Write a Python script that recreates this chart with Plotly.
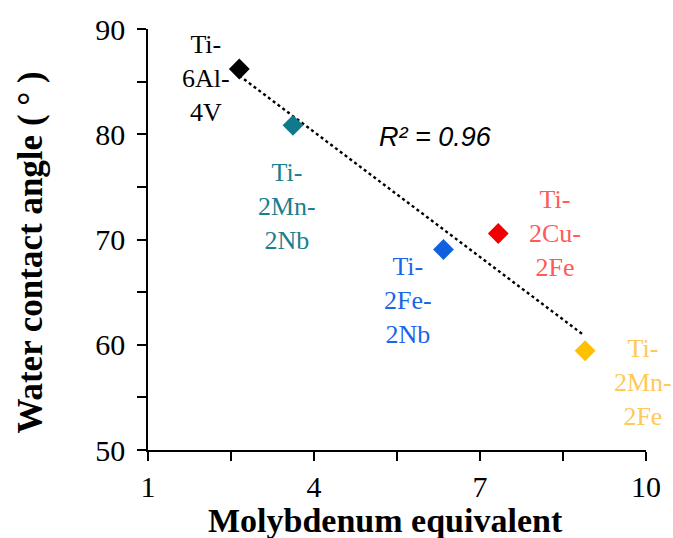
import numpy as np
import plotly.graph_objects as go

alloys = ["Ti-6Al-4V", "Ti-2Mn-2Nb", "Ti-2Fe-2Nb", "Ti-2Cu-2Fe", "Ti-2Mn-2Fe"]
mo_eq = [2.65, 3.62, 6.34, 7.33, 8.90]
contact_angle = [86.2, 80.85, 69.05, 70.57, 59.43]
marker_colors = ["#000000", "#0E7A8C", "#1060E0", "#F00000", "#FFC000"]
label_colors = ["#000000", "#1A8090", "#1A66E6", "#FF5A5A", "#FFC85A"]
label_texts = ["Ti-<br>6Al-<br>4V", "Ti-<br>2Mn-<br>2Nb", "Ti-<br>2Fe-<br>2Nb", "Ti-<br>2Cu-<br>2Fe", "Ti-<br>2Mn-<br>2Fe"]
label_x = [2.05, 3.52, 5.7, 8.35, 9.95]
label_y = [85.3, 73.1, 64.2, 70.6, 56.4]
r2_text = "R² = 0.96"
x_title = "Molybdenum equivalent"
y_title = "Water contact angle ( ° )"

SERIF = "Liberation Serif, Times New Roman, serif"

x = np.array(mo_eq)
y = np.array(contact_angle)
slope, intercept = np.polyfit(x, y, 1)
fit_x = np.array([x.min(), x.max() - 0.05])
fit_y = slope * fit_x + intercept

fig = go.Figure()
fig.add_trace(go.Scatter(x=fit_x, y=fit_y, mode="lines",
                         line=dict(color="#000000", width=2.4, dash="dot"),
                         showlegend=False, hoverinfo="skip"))
fig.add_trace(go.Scatter(x=mo_eq, y=contact_angle, mode="markers",
                         marker=dict(symbol="diamond", size=16, color=marker_colors),
                         showlegend=False))

for t, lx, ly, c in zip(label_texts, label_x, label_y, label_colors):
    fig.add_annotation(x=lx, y=ly, xref="x", yref="y", text=t, showarrow=False,
                       font=dict(family=SERIF, size=26, color=c),
                       align="center")

fig.add_annotation(x=6.2, y=79.7, xref="x", yref="y", text="<i>" + r2_text + "</i>",
                   showarrow=False, font=dict(family="Liberation Sans, Arial, sans-serif", size=27, color="#000000"))

fig.add_annotation(x=-0.236, y=0.47, xref="paper", yref="paper", text="<b>" + y_title + "</b>",
                   textangle=-90, showarrow=False, xanchor="center", yanchor="middle",
                   font=dict(family=SERIF, size=35, color="#000000"))
fig.add_annotation(x=0.477, y=-0.167, xref="paper", yref="paper", text="<b>" + x_title + "</b>",
                   showarrow=False, xanchor="center", yanchor="middle",
                   font=dict(family=SERIF, size=34, color="#000000"))

axis_common = dict(showgrid=False, zeroline=False, showline=True, linecolor="#000000", linewidth=1.5,
                   ticks="outside", ticklen=9, tickwidth=1.5, tickcolor="#000000",
                   tickfont=dict(family=SERIF, size=30, color="#000000"))

fig.update_layout(
    width=673, height=538,
    margin=dict(l=148, r=16, t=25, b=88),
    plot_bgcolor="white", paper_bgcolor="white",
    font=dict(family=SERIF, color="#000000"),
    xaxis=dict(range=[1, 10], tickmode="array", tickvals=[1, 4, 7, 10],
               minor=dict(tickmode="array", tickvals=[2.5, 5.5, 8.5], ticks="outside", ticklen=9, tickwidth=1.5, tickcolor="#000000", showgrid=False),
               **axis_common),
    yaxis=dict(range=[50, 90], tickmode="array", tickvals=[50, 60, 70, 80, 90],
               minor=dict(tickmode="array", tickvals=[55, 65, 75, 85], ticks="outside", ticklen=9, tickwidth=1.5, tickcolor="#000000", showgrid=False),
               ticklabelstandoff=6,
               **axis_common),
)

fig.write_html("out.html")
